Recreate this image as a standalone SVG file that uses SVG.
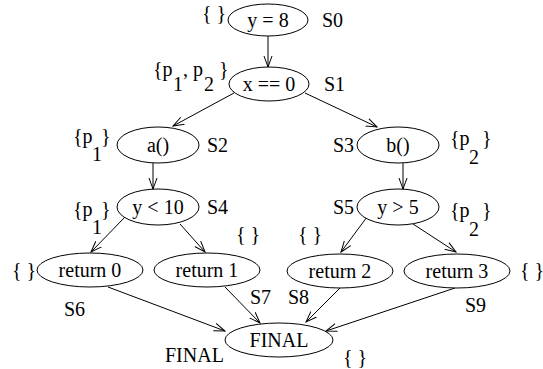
<svg xmlns="http://www.w3.org/2000/svg" width="543" height="369" viewBox="0 0 543 369">
<style>
text{font-family:"Liberation Serif","Times New Roman",serif;font-size:20px;fill:#000}
.c{text-anchor:middle}
ellipse{fill:#fff;stroke:#000;stroke-width:1}
#edges line{stroke:#000;stroke-width:1;marker-end:url(#arr)}
</style>
<defs>
<marker id="arr" markerUnits="userSpaceOnUse" markerWidth="12" markerHeight="10" refX="11" refY="4.5" orient="auto" viewBox="0 0 12 10">
<path d="M0,0.5 L11,4.5 L0,8.5" fill="none" stroke="#000" stroke-width="1"/>
</marker>
</defs>
<rect width="543" height="369" fill="#fff"/>
<g id="edges">
<line x1="268" y1="36" x2="268" y2="67"/>
<line x1="234" y1="93" x2="173" y2="126"/>
<line x1="305" y1="93" x2="377" y2="127"/>
<line x1="153" y1="163" x2="153" y2="189"/>
<line x1="403" y1="163" x2="403" y2="189"/>
<line x1="125" y1="217" x2="91" y2="252"/>
<line x1="180" y1="224" x2="205" y2="252"/>
<line x1="367" y1="217" x2="341" y2="252"/>
<line x1="413" y1="224" x2="456" y2="252"/>
<line x1="108" y1="287" x2="225" y2="331"/>
<line x1="225" y1="287" x2="260" y2="323"/>
<line x1="340" y1="288" x2="306" y2="322"/>
<line x1="455" y1="288" x2="326" y2="331"/>
</g>
<g id="S0">
<ellipse cx="268" cy="20" rx="40" ry="16"/>
<text class="c" x="268" y="27">y = 8</text>
<text x="202" y="20">{ }</text>
<text x="322" y="27">S0</text>
</g>
<g id="S1">
<ellipse cx="269" cy="84" rx="40" ry="17"/>
<text class="c" x="269" y="91">x == 0</text>
<text><tspan x="153" y="76">{p</tspan><tspan x="173" y="91">1</tspan><tspan x="183" y="76">, p</tspan><tspan x="204" y="91">2</tspan><tspan x="219" y="76">}</tspan></text>
<text x="324" y="91">S1</text>
</g>
<g id="S2">
<ellipse cx="158" cy="145" rx="41" ry="18"/>
<text class="c" x="158" y="152">a()</text>
<text><tspan x="73" y="143">{p</tspan><tspan x="92" y="161">1</tspan><tspan x="101" y="143">}</tspan></text>
<text x="207" y="152">S2</text>
</g>
<g id="S3">
<ellipse cx="398" cy="145" rx="41" ry="18"/>
<text class="c" x="398" y="152">b()</text>
<text x="333" y="152">S3</text>
<text><tspan x="450" y="145">{p</tspan><tspan x="469" y="164">2</tspan><tspan x="482" y="145">}</tspan></text>
</g>
<g id="S4">
<ellipse cx="158" cy="207" rx="41" ry="18"/>
<text class="c" x="158" y="214">y &lt; 10</text>
<text><tspan x="73" y="216">{p</tspan><tspan x="92" y="234">1</tspan><tspan x="101" y="216">}</tspan></text>
<text x="207" y="214">S4</text>
</g>
<g id="S5">
<ellipse cx="398" cy="207" rx="41" ry="18"/>
<text class="c" x="398" y="214">y &gt; 5</text>
<text x="333" y="214">S5</text>
<text><tspan x="450" y="217">{p</tspan><tspan x="469" y="236">2</tspan><tspan x="482" y="217">}</tspan></text>
</g>
<g id="S6">
<ellipse cx="90" cy="270" rx="53" ry="17"/>
<text class="c" x="90" y="277">return 0</text>
<text x="12" y="277">{ }</text>
<text x="64" y="316">S6</text>
</g>
<g id="S7">
<ellipse cx="207" cy="270" rx="53" ry="17"/>
<text class="c" x="207" y="277">return 1</text>
<text x="236" y="241">{ }</text>
<text x="250" y="304">S7</text>
</g>
<g id="S8">
<ellipse cx="340" cy="271" rx="53" ry="17"/>
<text class="c" x="340" y="278">return 2</text>
<text x="298" y="241">{ }</text>
<text x="288" y="304">S8</text>
</g>
<g id="S9">
<ellipse cx="457" cy="271" rx="53" ry="17"/>
<text class="c" x="457" y="278">return 3</text>
<text x="520" y="277">{ }</text>
<text x="465" y="312">S9</text>
</g>
<g id="FINAL">
<ellipse cx="279" cy="340" rx="54" ry="17"/>
<text class="c" x="279" y="347">FINAL</text>
<text x="165" y="362">FINAL</text>
<text x="343" y="364">{ }</text>
</g>
</svg>
